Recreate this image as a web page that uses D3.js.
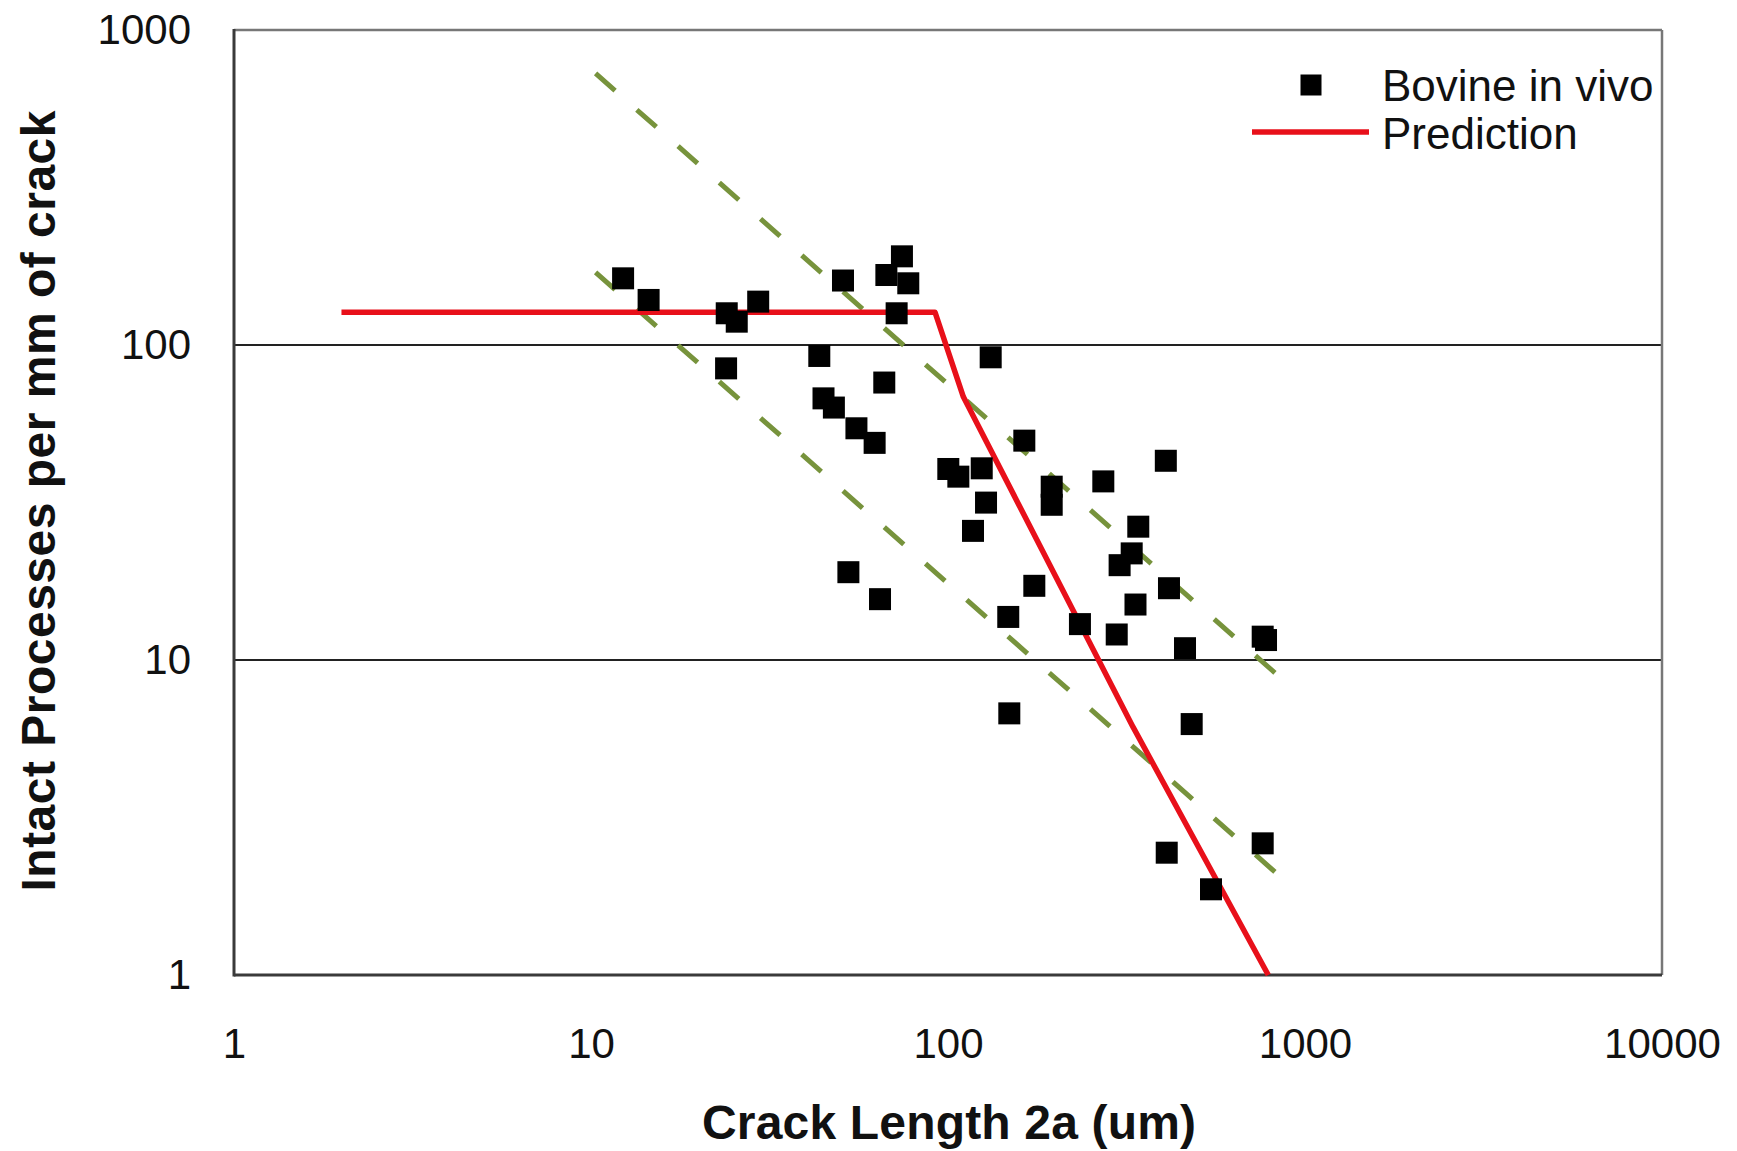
<!DOCTYPE html>
<html>
<head>
<meta charset="utf-8">
<script src="https://cdn.jsdelivr.net/npm/d3@7"></script>
<style>
  body { margin: 0; background: #fff; }
  text { font-family: Arial, "Liberation Sans", sans-serif; }
</style>
</head>
<body>
<div id="chart"></div>
<script>
// measured crack lengths (um) and intact processes per mm
var crackLength = [12.3, 14.5, 24.0, 25.6, 29.4, 23.9, 50.8, 43.6, 44.8, 47.9,
  55.4, 62.3, 66.3, 52.6, 64.5, 74.3, 67.2, 77.4, 71.8, 131.7,
  100.2, 106.9, 124.3, 127.8, 117.5, 163.6, 195.2, 195.2, 174.5, 147.5,
  148.5, 234.2, 272.3, 407.5, 341.2, 327.0, 302.5, 415.9, 335.1, 296.9,
  461.2, 481.5, 761.2, 777.7, 409.9, 545.4, 761.2];
var intactProcesses = [162.8, 139.0, 126.1, 118.6, 137.3, 84.3, 160.2, 92.3, 67.7, 63.3,
  54.4, 48.9, 76.0, 19.0, 15.6, 191.2, 166.8, 157.0, 126.1, 91.4,
  40.4, 38.2, 40.6, 31.6, 25.7, 49.7, 35.5, 31.1, 17.2, 13.7,
  6.77, 13.0, 36.9, 42.9, 26.5, 21.8, 20.0, 16.9, 15.0, 12.05,
  10.9, 6.26, 11.86, 11.57, 2.445, 1.871, 2.618];

// prediction curve
var predX = [2, 92, 110.4, 330, 789];
var predY = [127, 127, 68.5, 6.12, 1];

// dashed bounds, y = k / x
var boundK = [7500, 1750];
var boundX = [10.3, 890];

var xTicks = [1, 10, 100, 1000, 10000];
var yTicks = [1, 10, 100, 1000];
var gridValues = [10, 100];

var legendLabels = ["Bovine in vivo", "Prediction"];

var W = 1737, H = 1151;
var plotL = 234, plotR = 1662, plotT = 30, plotB = 975;

var svg = d3.select("#chart").append("svg")
  .attr("width", W).attr("height", H)
  .style("background", "#fff");

var x = d3.scaleLog().domain([1, 10000]).range([plotL, plotR]);
var y = d3.scaleLog().domain([1, 1000]).range([plotB, plotT]);

// gridlines
svg.selectAll(".grid").data(gridValues).enter().append("line")
  .attr("x1", plotL).attr("x2", plotR)
  .attr("y1", function(d) { return y(d); })
  .attr("y2", function(d) { return y(d); })
  .style("stroke", "#222").style("stroke-width", 2);

// frame
svg.append("line").attr("x1", plotL).attr("x2", plotR).attr("y1", plotT).attr("y2", plotT)
  .style("stroke", "#777").style("stroke-width", 2.5);
svg.append("line").attr("x1", plotR).attr("x2", plotR).attr("y1", plotT).attr("y2", plotB)
  .style("stroke", "#777").style("stroke-width", 2.5);
svg.append("line").attr("x1", plotL).attr("x2", plotL).attr("y1", plotT - 1).attr("y2", plotB + 1.5)
  .style("stroke", "#3a3a3a").style("stroke-width", 3);
svg.append("line").attr("x1", plotL).attr("x2", plotR).attr("y1", plotB).attr("y2", plotB)
  .style("stroke", "#3a3a3a").style("stroke-width", 3);

// axes
var xAxis = svg.append("g").attr("transform", "translate(0," + plotB + ")")
  .call(d3.axisBottom(x).tickValues(xTicks).tickFormat(d3.format("d"))
    .tickSize(0).tickPadding(53));
var yAxis = svg.append("g").attr("transform", "translate(" + plotL + ",0)")
  .call(d3.axisLeft(y).tickValues(yTicks).tickFormat(d3.format("d"))
    .tickSize(0).tickPadding(43));
[xAxis, yAxis].forEach(function(a) {
  a.select(".domain").remove();
  a.selectAll("text")
    .style("font-family", "Arial, 'Liberation Sans', sans-serif")
    .style("font-size", "42px").style("fill", "#111");
});

// dashed bounds
boundK.forEach(function(k) {
  svg.append("line")
    .attr("x1", x(boundX[0])).attr("y1", y(k / boundX[0]))
    .attr("x2", x(boundX[1])).attr("y2", y(k / boundX[1]))
    .style("stroke", "#77933c").style("stroke-width", 5)
    .style("stroke-dasharray", "26,29");
});

// prediction
var pts = predX.map(function(d, i) { return [d, predY[i]]; });
svg.append("path").datum(pts)
  .attr("d", d3.line().x(function(d) { return x(d[0]); }).y(function(d) { return y(d[1]); }))
  .style("fill", "none").style("stroke", "#e8101a").style("stroke-width", 5.5)
  .style("stroke-linejoin", "round");

// data squares
var s = 22;
svg.selectAll(".pt").data(crackLength).enter().append("rect")
  .attr("x", function(d) { return x(d) - s / 2; })
  .attr("y", function(d, i) { return y(intactProcesses[i]) - s / 2; })
  .attr("width", s).attr("height", s)
  .style("fill", "#000");

// legend
svg.append("rect").attr("x", 1311 - 10.5).attr("y", 85 - 10.5)
  .attr("width", 21).attr("height", 21).style("fill", "#000");
svg.append("line").attr("x1", 1252).attr("x2", 1369).attr("y1", 132).attr("y2", 132)
  .style("stroke", "#e8101a").style("stroke-width", 5.5);
svg.selectAll(".leg").data(legendLabels).enter().append("text")
  .attr("x", 1382)
  .attr("y", function(d, i) { return 101 + i * 48; })
  .style("font-size", "44px").style("fill", "#111")
  .text(function(d) { return d; });

// axis titles
svg.append("text")
  .attr("x", (plotL + plotR) / 2 + 1).attr("y", 1139)
  .attr("text-anchor", "middle")
  .attr("textLength", 494).attr("lengthAdjust", "spacing")
  .style("font-size", "48px").style("font-weight", "bold").style("fill", "#111")
  .text("Crack Length 2a (um)");
svg.append("text")
  .attr("transform", "translate(55,501) rotate(-90)")
  .attr("text-anchor", "middle")
  .attr("textLength", 781).attr("lengthAdjust", "spacing")
  .style("font-size", "48px").style("font-weight", "bold").style("fill", "#111")
  .text("Intact Processes per mm of crack");
</script>
</body>
</html>
